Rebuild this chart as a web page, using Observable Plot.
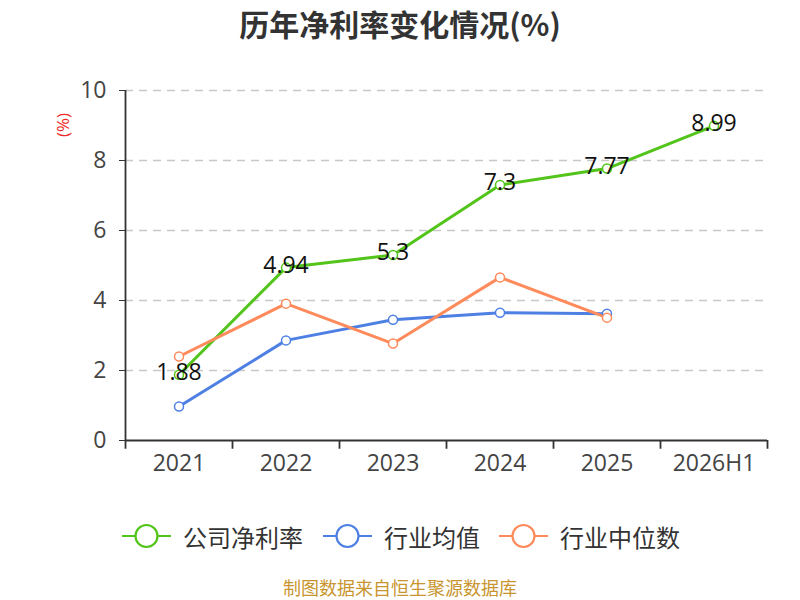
<!DOCTYPE html>
<html><head><meta charset="utf-8">
<script src="https://cdn.jsdelivr.net/npm/d3@7"></script>
<script src="https://cdn.jsdelivr.net/npm/@observablehq/plot@0.6"></script>
<style>
body{margin:0;width:800px;height:600px;position:relative;background:#fff;font-family:"Open Sans","Noto Sans CJK SC",sans-serif;overflow:hidden}
#title{position:absolute;top:0px;left:0;width:800px;text-align:center;font-size:30px;line-height:46px;font-weight:bold;color:#333;font-family:"Noto Sans CJK SC",sans-serif}
#chart{position:absolute;top:0;left:0}
#ylab{position:absolute;left:47px;top:114px;color:#f02828;font-size:17px;line-height:22px;transform:rotate(-90deg);transform-origin:center;width:32px;text-align:center}
#legend{position:absolute;top:520px;left:0;width:800px;height:32px}
.li{position:absolute;top:0;display:flex;align-items:center;font-size:24px;color:#333;height:32px;font-family:"Noto Sans CJK SC",sans-serif}
.li svg{margin-right:12px}
#source{position:absolute;top:578px;left:0;width:800px;text-align:center;font-size:18px;line-height:18px;color:#c8952e;font-family:"Noto Sans CJK SC",sans-serif}
</style></head>
<body>
<div id="title">历年净利率变化情况(%)</div>
<div id="chart"></div>
<div id="ylab">(%)</div>
<div id="legend"></div>
<div id="source">制图数据来自恒生聚源数据库</div>
<script>
const categories = ["2021","2022","2023","2024","2025","2026H1"];
const companyNetMargin = [1.88, 4.94, 5.3, 7.3, 7.77, 8.99];
const industryAvg = [0.97, 2.86, 3.45, 3.65, 3.62];
const industryMedian = [2.4, 3.91, 2.77, 4.66, 3.51];
const yTicks = [0, 2, 4, 6, 8, 10];
const seriesNames = ["公司净利率", "行业均值", "行业中位数"];
const seriesColors = ["#52c41a", "#4e80e4", "#ff8a5b"];

const seriesValues = [companyNetMargin, industryAvg, industryMedian];
const data = [];
seriesValues.forEach((vals, s) => vals.forEach((v, i) => data.push({series: seriesNames[s], i, v})));
const companyData = data.filter(d => d.series === seriesNames[0]);
const boundaries = d3.range(categories.length + 1).map(i => i - 0.5);
const font = '"Open Sans","Noto Sans CJK SC",sans-serif';

const chart = Plot.plot({
  width: 800, height: 490,
  marginLeft: 125, marginRight: 33, marginTop: 90, marginBottom: 50,
  style: {fontFamily: font, fontSize: "23px", color: "#444", background: "transparent"},
  x: {domain: [-0.5, categories.length - 0.5]},
  y: {domain: [0, 10]},
  color: {domain: seriesNames, range: seriesColors},
  marks: [
    Plot.ruleY(yTicks.filter(d => d > 0), {stroke: "#c8c8c8", strokeWidth: 1.5, strokeDasharray: "8,6"}),
    Plot.axisY({ticks: yTicks, tickSize: 6, tickPadding: 13, label: null, stroke: "#333", fill: "#444", fontSize: 23}),
    Plot.axisX({ticks: categories.map((_, i) => i), tickFormat: i => categories[i], tickSize: 0, tickPadding: 14, label: null, fill: "#444", fontSize: 23}),
    Plot.ruleX([-0.5], {stroke: "#333", strokeWidth: 1.8}),
    Plot.ruleY([0], {stroke: "#333", strokeWidth: 1.8}),
    Plot.ruleX(boundaries, {y1: 0, y2: -0.25, stroke: "#333", strokeWidth: 1.8}),
    Plot.line(data, {x: "i", y: "v", z: "series", stroke: "series", strokeWidth: 3}),
    Plot.dot(data, {x: "i", y: "v", stroke: "series", fill: "white", r: 4.5, strokeWidth: 1.5}),
    Plot.text(companyData, {x: "i", y: "v", text: d => String(d.v), fill: "#111", fontSize: 23, dy: -2})
  ]
});
document.getElementById("chart").appendChild(chart);

const legend = document.getElementById("legend");
const lefts = [122, 323, 499];
seriesNames.forEach((n, k) => {
  const div = document.createElement("div");
  div.className = "li";
  div.style.left = lefts[k] + "px";
  div.innerHTML = `<svg width="49" height="28"><line x1="0" y1="14" x2="49" y2="14" stroke="${seriesColors[k]}" stroke-width="2.2"/><circle cx="24.5" cy="14" r="11" fill="white" stroke="${seriesColors[k]}" stroke-width="2.2"/></svg><span>${n}</span>`;
  legend.appendChild(div);
});
</script>
</body></html>
